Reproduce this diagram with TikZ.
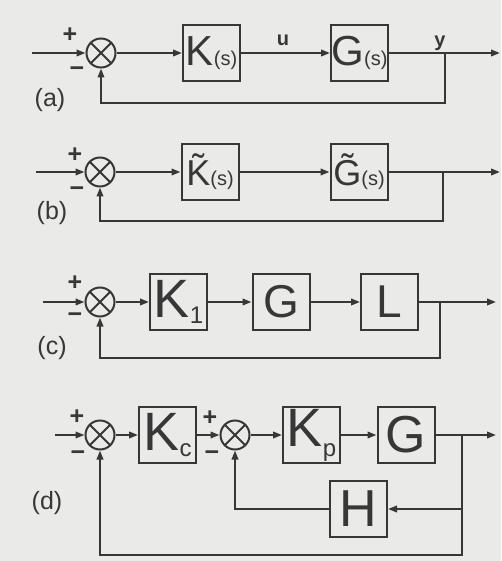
\documentclass[tikz,border=0pt]{standalone}
\usepackage{fontspec}
\setmainfont{Liberation Sans}
\usetikzlibrary{arrows.meta}
\definecolor{ink}{RGB}{55,55,55}
\definecolor{paper}{RGB}{234,234,232}
\newcommand{\bigf}[1]{\fontsize{#1}{#1}\selectfont}
\begin{document}
\begin{tikzpicture}[x=1pt,y=-1pt,
  blk/.style={draw=ink,line width=2pt,minimum width=57pt,minimum height=56pt,inner sep=0pt,text=ink},
  sumj/.style={draw=ink,circle,line width=2pt,minimum size=29pt,inner sep=0pt,
    path picture={\draw[ink,line width=1.8pt]
      (path picture bounding box.north west) -- (path picture bounding box.south east)
      (path picture bounding box.north east) -- (path picture bounding box.south west);}},
  wire/.style={draw=ink,line width=2pt},
  ar/.style={wire,-{Triangle[length=9pt,width=6.5pt]}},
  sgn/.style={text=ink,font=\bigf{25}\bfseries,inner sep=0pt},
  tag/.style={text=ink,font=\bigf{25},inner sep=0pt},
  sig/.style={text=ink,font=\bigf{20}\bfseries,inner sep=0pt}]
\useasboundingbox (0,0) rectangle (501,561);
\fill[paper] (0,0) rectangle (501,561);

% ---------------- (a)
\node[sumj] (sa) at (101,53) {};
\node[blk] (ka) at (211.5,53) {\bigf{42}K{\bigf{20}(s)}};
\node[blk] (ga) at (359.5,53) {\bigf{42}G{\bigf{20}(s)}};
\coordinate (ina) at (32,53);
\coordinate (outa) at (500,53);
\coordinate (ba) at (445,53);
\coordinate (fa) at (445,103);
\draw[ar] (ina) -- (sa.west);
\draw[ar] (sa.east) -- (ka.west);
\draw[ar] (ka.east) -- (ga.west);
\draw[ar] (ga.east) -- (outa);
\draw[ar] (ba) -- (fa) -| (sa.south);
\node[sgn] (pa) at (70,35) {+};
\node[sgn] (ma) at (77,72) {\textminus};
\node[tag] (la) at (50,100) {(a)};
\node[sig] (ua) at (283,40) {u};
\node[sig] (ya) at (440,43) {y};

% ---------------- (b)
\node[sumj] (sb) at (100,172) {};
\node[blk] (kb) at (210,172) {\bigf{36}\~{K}{\bigf{20}(s)}};
\node[blk] (gb) at (359,172) {\bigf{36}\~{G}{\bigf{20}(s)}};
\coordinate (inb) at (36,172);
\coordinate (outb) at (500,172);
\coordinate (bb) at (443,172);
\coordinate (fb) at (443,221);
\draw[ar] (inb) -- (sb.west);
\draw[ar] (sb.east) -- (kb.west);
\draw[ar] (kb.east) -- (gb.west);
\draw[ar] (gb.east) -- (outb);
\draw[ar] (bb) -- (fb) -| (sb.south);
\node[sgn] (pb) at (75,155) {+};
\node[sgn] (mb) at (77,192) {\textminus};
\node[tag] (lb) at (52,213) {(b)};

% ---------------- (c)
\node[sumj] (sc) at (100,302) {};
\node[blk] (kc) at (178.5,302) {\bigf{54}K\raisebox{-6pt}{\bigf{24}1}};
\node[blk] (gc) at (281,302) {\bigf{46}G};
\node[blk] (lc) at (389.5,302) {\bigf{46}L};
\coordinate (inc) at (43,302);
\coordinate (outc) at (496,302);
\coordinate (bc) at (440,302);
\coordinate (fc) at (440,358);
\draw[ar] (inc) -- (sc.west);
\draw[ar] (sc.east) -- (kc.west);
\draw[ar] (kc.east) -- (gc.west);
\draw[ar] (gc.east) -- (lc.west);
\draw[ar] (lc.east) -- (outc);
\draw[ar] (bc) -- (fc) -| (sc.south);
\node[sgn] (pc) at (75,283) {+};
\node[sgn] (mc) at (75,318) {\textminus};
\node[tag] (lcc) at (52,348) {(c)};

% ---------------- (d)
\node[sumj] (sd) at (100,435) {};
\node[blk] (kcd) at (167.5,435) {\bigf{54}K\raisebox{-6pt}{\bigf{24}c}};
\node[sumj] (se) at (235,435) {};
\node[blk] (kpd) at (311.5,435) {\bigf{54}K\raisebox{-10pt}{\bigf{24}p}};
\node[blk] (gd) at (406,435) {\bigf{52}G};
\node[blk] (hd) at (358.5,509) {\bigf{52}H};
\coordinate (ind) at (55,435);
\coordinate (outd) at (496,435);
\coordinate (bd) at (462,435);
\coordinate (hb) at (462,509);
\coordinate (fd) at (462,555);
\coordinate (fe) at (235,509);
\draw[ar] (ind) -- (sd.west);
\draw[ar] (sd.east) -- (kcd.west);
\draw[ar] (kcd.east) -- (se.west);
\draw[ar] (se.east) -- (kpd.west);
\draw[ar] (kpd.east) -- (gd.west);
\draw[ar] (gd.east) -- (outd);
\draw[ar] (bd) -- (hb) -- (hd.east);
\draw[ar] (hd.west) -- (fe) -- (se.south);
\draw[ar] (hb) -- (fd) -| (sd.south);
\node[sgn] (pd) at (77,417) {+};
\node[sgn] (md) at (78,456) {\textminus};
\node[sgn] (pe) at (210,418) {+};
\node[sgn] (me) at (212,456) {\textminus};
\node[tag] (ld) at (47,503) {(d)};
\end{tikzpicture}
\end{document}
